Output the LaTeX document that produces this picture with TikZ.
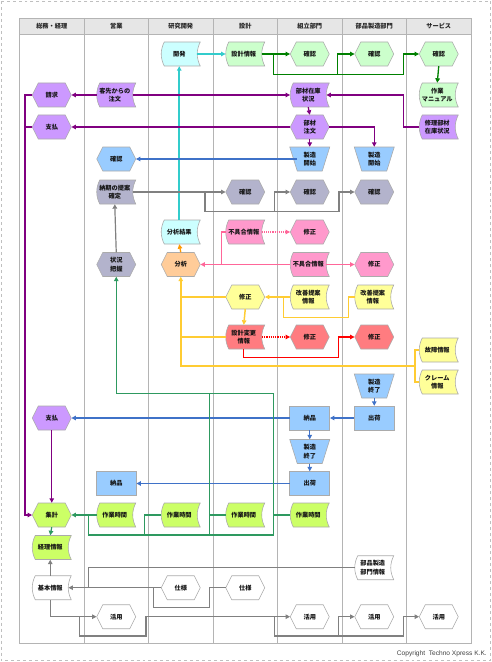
\documentclass[tikz,border=0pt]{standalone}
\usepackage{fontspec}
\setmainfont{Noto Sans CJK JP}
\newfontfamily\latinf{Liberation Sans}
\usetikzlibrary{arrows.meta}
\definecolor{cyF}{HTML}{CCFFFF}\definecolor{cyL}{HTML}{33CCCC}
\definecolor{lgF}{HTML}{CCFFCC}\definecolor{lgL}{HTML}{008000}
\definecolor{puF}{HTML}{CC99FF}\definecolor{puL}{HTML}{800080}
\definecolor{blF}{HTML}{99CCFF}\definecolor{blL}{HTML}{3F72C8}
\definecolor{grF}{HTML}{B3B3CC}\definecolor{grL}{HTML}{808080}
\definecolor{piF}{HTML}{FF99CC}\definecolor{piL}{HTML}{FF6699}
\definecolor{orF}{HTML}{FFCC99}\definecolor{orL}{HTML}{FF9900}
\definecolor{yeF}{HTML}{FFFF99}\definecolor{yeL}{HTML}{FFCC33}
\definecolor{reF}{HTML}{FF7C80}\definecolor{reL}{HTML}{FF0000}
\definecolor{liF}{HTML}{CCFF66}\definecolor{dgL}{HTML}{2E9960}
\definecolor{hdF}{HTML}{E6E6E6}\definecolor{gridL}{HTML}{B4B4B4}
\tikzset{
 lbl/.style={inner sep=0pt, minimum width=39bp, minimum height=24bp, align=center,
   font=\fontsize{6.2bp}{8.6bp}\selectfont\bfseries, text=black!92},
 shp/.style={draw=black!33, line width=0.6bp},
 tip/.style={-{Triangle[length=4.5bp,width=4.5bp]}},
 cyl/.style={draw=cyL, line width=1.6bp, tip},
 lgl/.style={draw=lgL, line width=1.3bp, tip},
 pul/.style={draw=puL, line width=1.3bp, tip},
 bll/.style={draw=blL, line width=1.2bp, tip},
 grl/.style={draw=grL, line width=1.2bp, tip},
 pil/.style={draw=piL, line width=1.1bp, tip},
 orl/.style={draw=orL, line width=1.3bp, tip},
 yel/.style={draw=yeL, line width=1.5bp, tip},
 rel/.style={draw=reL, line width=1.2bp, tip},
 dgl/.style={draw=dgL, line width=1.2bp, tip},
 hdr/.style={font=\fontsize{6.2bp}{7bp}\selectfont\bfseries, text=black!85},
}
% hexagon: name, x, y, fill, text
\newcommand\hexa[5]{%
 \path[shp,fill=#4,shift={(#2,#3)}] (-19.5,0) -- (-13.5,-12) -- (13.5,-12) -- (19.5,0) -- (13.5,12) -- (-13.5,12) -- cycle;
 \node[lbl] (#1) at (#2,#3) {#5};}
% stored-data document shape
\newcommand\docu[5]{%
 \path[shp,fill=#4,shift={(#2,#3)}] (-16.5,-12) -- (19.5,-12) .. controls (15.5,-4) and (15.5,4) .. (19.5,12) -- (-16.5,12) .. controls (-20.5,4) and (-20.5,-4) .. (-16.5,-12) -- cycle;
 \node[lbl,minimum width=36bp] (#1) at (#2-1.5,#3) {#5};}
% trapezoid
\newcommand\trap[5]{%
 \path[shp,fill=#4,shift={(#2,#3)}] (-20,-12) -- (20,-12) -- (12.5,12) -- (-12.5,12) -- cycle;
 \node[lbl,minimum width=32.5bp] (#1) at (#2,#3) {#5};}
% rectangle
\newcommand\recta[5]{%
 \path[shp,fill=#4,shift={(#2,#3)}] (-20,-12) rectangle (20,12);
 \node[lbl,minimum width=40bp] (#1) at (#2,#3) {#5};}
\begin{document}
\begin{tikzpicture}[x=1bp,y=-1bp]
\useasboundingbox (0,0) rectangle (492,662);
\draw[gray!50, dashed, line width=0.6bp] (1,1) rectangle (490.5,660.5);
% table
\fill[hdF] (19.5,18) rectangle (471,34.5);
\draw[gridL, line width=0.9bp] (19.5,18) rectangle (471,643.5);
\draw[gridL, line width=0.9bp] (19.5,34.5) -- (471,34.5);
\foreach \xx in {84,148.5,213,277.5,342,406.5} \draw[gridL, line width=0.9bp] (\xx,18) -- (\xx,643.5);
\node[hdr] (h1) at (51.75,26.3) {総務・経理};
\node[hdr] (h2) at (116.25,26.3) {営業};
\node[hdr] (h3) at (180.75,26.3) {研究開発};
\node[hdr] (h4) at (245.25,26.3) {設計};
\node[hdr] (h5) at (309.75,26.3) {組立部門};
\node[hdr] (h6) at (374.25,26.3) {部品製造部門};
\node[hdr] (h7) at (438.75,26.3) {サービス};
% nodes
\docu{kaihatsu}{180.75}{54}{cyF}{開発}
\docu{sekkei}{245.25}{54}{lgF}{設計情報}
\hexa{kak1}{309.75}{54}{lgF}{確認}
\hexa{kak2}{374.25}{54}{lgF}{確認}
\hexa{kak3}{438.75}{54}{lgF}{確認}
\hexa{seikyu}{51.75}{95}{puF}{請求}
\docu{kyaku}{116.25}{95}{puF}{客先からの\\注文}
\docu{zaiko}{309.75}{95}{puF}{部材在庫\\状況}
\docu{manual}{438.75}{95}{lgF}{作業\\マニュアル}
\hexa{shiharai1}{51.75}{127}{puF}{支払}
\hexa{buzai}{309.75}{127}{puF}{部材\\注文}
\docu{shuri}{438.75}{127}{puF}{修理部材\\在庫状況}
\hexa{kakB}{116.25}{159}{blF}{確認}
\trap{kaishi1}{309.75}{159}{blF}{製造\\開始}
\trap{kaishi2}{374.25}{159}{blF}{製造\\開始}
\docu{noki}{116.25}{192}{grF}{納期の提案\\確定}
\hexa{kakG1}{245.25}{192}{grF}{確認}
\hexa{kakG2}{309.75}{192}{grF}{確認}
\hexa{kakG3}{374.25}{192}{grF}{確認}
\docu{kekka}{180.75}{232}{cyF}{分析結果}
\docu{fuguai1}{245.25}{232}{piF}{不具合情報}
\hexa{shuP1}{309.75}{232}{piF}{修正}
\hexa{jokyo}{116.25}{264.5}{grF}{状況\\把握}
\hexa{bunseki}{180.75}{264.5}{orF}{分析}
\docu{fuguai2}{309.75}{264.5}{piF}{不具合情報}
\hexa{shuP2}{374.25}{264.5}{piF}{修正}
\hexa{shuY}{245.25}{297}{yeF}{修正}
\docu{kaizen1}{309.75}{297}{yeF}{改善提案\\情報}
\docu{kaizen2}{374.25}{297}{yeF}{改善提案\\情報}
\docu{henko}{245.25}{337}{reF}{設計変更\\情報}
\hexa{shuR1}{309.75}{337}{reF}{修正}
\hexa{shuR2}{374.25}{337}{reF}{修正}
\docu{kosho}{438.75}{350}{yeF}{故障情報}
\docu{claim}{438.75}{382}{yeF}{クレーム\\情報}
\trap{shuryo2}{374.25}{386}{blF}{製造\\終了}
\hexa{shiharai2}{51.75}{418}{puF}{支払}
\recta{nohin1}{309.75}{418}{blF}{納品}
\recta{shukka1}{374.25}{418}{blF}{出荷}
\trap{shuryo1}{309.75}{451.5}{blF}{製造\\終了}
\recta{nohin2}{116.25}{483.5}{blF}{納品}
\recta{shukka2}{309.75}{483.5}{blF}{出荷}
\hexa{shukei}{51.75}{515}{liF}{集計}
\docu{saT1}{116.25}{515}{liF}{作業時間}
\docu{saT2}{180.75}{515}{liF}{作業時間}
\docu{saT3}{245.25}{515}{liF}{作業時間}
\docu{saT4}{309.75}{515}{liF}{作業時間}
\docu{keiri}{51.75}{547.5}{liF}{経理情報}
\docu{buhinjoho}{374.25}{567.7}{white}{部品製造\\部門情報}
\docu{kihon}{51.75}{587.7}{white}{基本情報}
\hexa{shiyo1}{180.75}{587.7}{white}{仕様}
\hexa{shiyo2}{245.25}{587.7}{white}{仕様}
\hexa{katsu1}{116.25}{616.7}{white}{活用}
\hexa{katsu2}{309.75}{616.7}{white}{活用}
\hexa{katsu3}{374.25}{616.7}{white}{活用}
\hexa{katsu4}{438.75}{616.7}{white}{活用}
% cyan
\draw[cyl] (kekka.north) -- (kaihatsu.south);
\draw[cyl,line width=1.2bp] (kaihatsu.east) -- (sekkei.west);
% green top
\draw[lgl] (sekkei.east) -- (kak1.west);
\draw[lgl] (sekkei.east) -| (273.3,74.7) -| (403.3,54) -- (kak3.west);
\draw[lgl] (337.7,74.7) |- (kak2.west);
\draw[lgl] (kak3.south) -- (manual.north);
% purple
\draw[pul] (kyaku.west) -- (seikyu.east);
\draw[pul] (kyaku.east) -- (zaiko.west);
\draw[pul] (shuri.west) -| (403.3,95) -- (zaiko.east);
\draw[pul] (zaiko.south) -- (buzai.north);
\draw[pul] (buzai.west) -- (shiharai1.east);
\draw[pul] (buzai.south) -- (kaishi1.north);
\draw[pul] (buzai.east) -| (kaishi2.north);
\draw[pul] (seikyu.west) -| (25,515) -- (shukei.west);
\draw[pul,-] (shiharai1.west) -- (25,127);
\draw[pul] (shiharai2.south) -- (shukei.north);
% blue
\draw[bll] ([xshift=3.75bp]kaishi1.west) -- (kakB.east);
\draw[bll] (shuryo2.south) -- (shukka1.north);
\draw[bll] (shukka1.west) -- (nohin1.east);
\draw[bll] (nohin1.west) -- (shiharai2.east);
\draw[bll] (nohin1.south) -- (shuryo1.north);
\draw[bll] (shuryo1.south) -- (shukka2.north);
\draw[bll] (shukka2.west) -- (nohin2.east);
% gray
\draw[grl] (jokyo.north) -- (noki.south);
\draw[grl] (noki.east) -- (kakG1.west);
\draw[grl] (205,192) |- (339,211.7) |- (kakG3.west);
\draw[grl] (274.3,211.7) |- (kakG2.west);
% pink
\draw[pil] (fuguai2.west) -- (bunseki.east);
\draw[pil,-] (fuguai1.west) -| (221.7,264.5);
\draw[pil,densely dotted] (fuguai1.east) -- (shuP1.west);
\draw[pil] (fuguai2.east) -- (shuP2.west);
% orange
\draw[orl] (bunseki.north) -- (kekka.south);
% yellow
\draw[yel] (kaizen1.west) -- (shuY.east);
\draw[yel,-] (kaizen2.west) -| (348.3,317.3) -| (283.3,297);
\draw[yel] (shuY.south) -- (henko.north);
\draw[yel] (415,366) -| (bunseki.south);
\draw[yel,-] (shuY.west) -- (180.75,297);
\draw[yel,-] (henko.west) -- (180.75,337);
\draw[yel,-] (kosho.west) -| (415,366);
\draw[yel,-] (claim.west) -| (415,366);
% red
\draw[rel,densely dotted] (henko.east) -- (shuR1.west);
\draw[rel] (henko.south) |- (338.3,357.3) |- (shuR2.west);
% dark green
\draw[dgl] (saT1.west) -- (shukei.east);
\draw[dgl] (88.3,515) |- (273.3,535) -- (273.3,393.3) -| (jokyo.south);
\draw[dgl,-] (saT2.west) -| (144.3,535);
\draw[dgl,-] (209.3,393.3) -- (209.3,535);
\draw[dgl,-] (saT3.west) -- (209.3,515);
\draw[dgl,-] (saT4.west) -- (273.3,515);
\draw[dgl] (shukei.south) -- (keiri.north);
% gray bottom
\draw[grl] (kihon.north) -- (keiri.south);
\draw[grl] (shiyo1.west) -- (kihon.east);
\draw[grl,-] (buhinjoho.west) -| (88.3,587.7);
\draw[grl,-] (shiyo2.west) -| (209.3,607.3) -| (153.3,587.7);
\draw[grl] (kihon.south) |- (katsu1.west);
\draw[grl] (79.3,616.7) |- (146,636) |- (katsu2.west);
\draw[grl] (274.3,616.7) |- (338.3,636) |- (katsu3.west);
\draw[grl] (338.3,636) -| (403.3,616.7) -- (katsu4.west);
% copyright
\node[anchor=east, font=\latinf\fontsize{6.6bp}{8bp}\selectfont, text=black!75, inner sep=0pt] (copy) at (487,654) {Copyright\ \ Techno Xpress K.K.};
\end{tikzpicture}
\end{document}
